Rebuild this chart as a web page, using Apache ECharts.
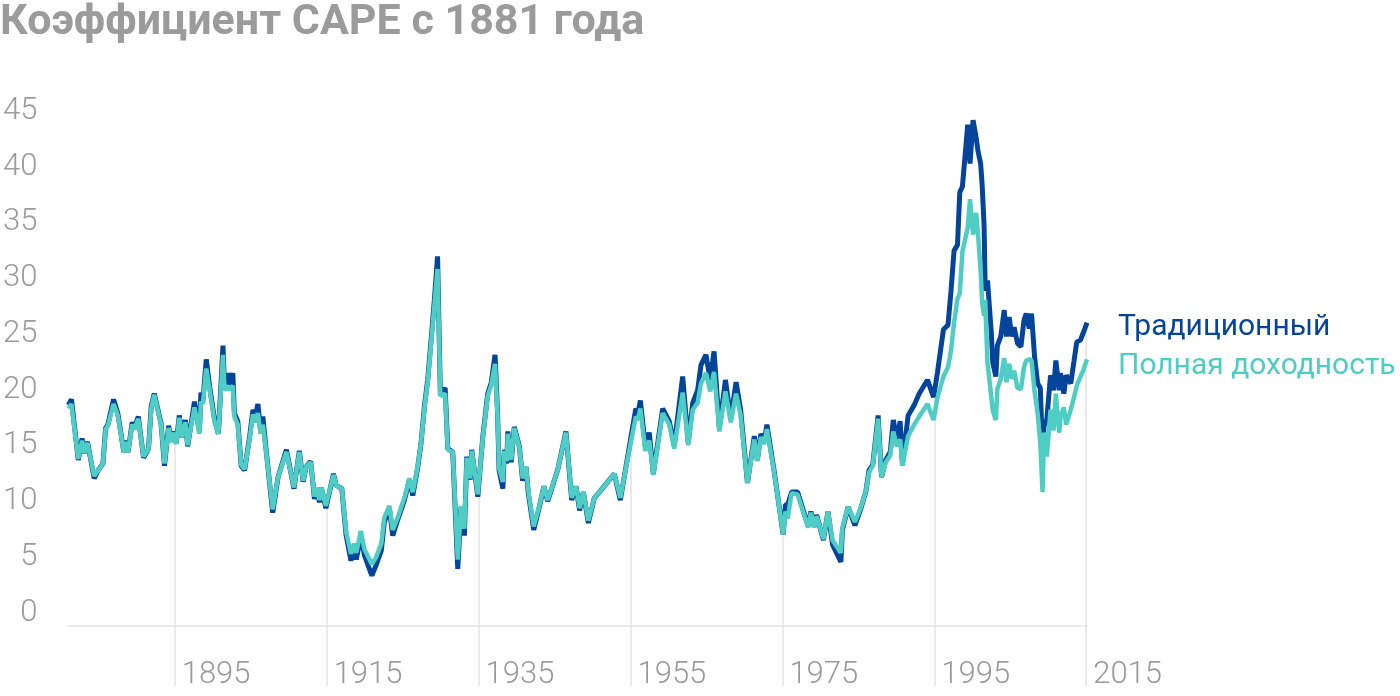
<!DOCTYPE html>
<html><head><meta charset="utf-8">
<script src="https://cdn.jsdelivr.net/npm/echarts@6/dist/echarts.min.js"></script>
<style>html,body{margin:0;padding:0;background:#fff}#c{width:1400px;height:696px}</style>
</head><body><div id="c"></div>
<script>
const titleText = 'Коэффициент CAPE с 1881 года';
const seriesNames = ['Традиционный', 'Полная доходность'];
const xTicks = [1895, 1915, 1935, 1955, 1975, 1995, 2015];
const yTicks = [0, 5, 10, 15, 20, 25, 30, 35, 40, 45];

const years = [
1881.0,1881.4,1882.3,1882.8,1883.1,1883.5,1884.4,1884.9,1885.55,1885.9,1886.2,1886.95,1887.5,1888.3,1888.5,1888.85,1889.4,1889.7,1890.2,1890.9,
1891.55,1891.9,1892.3,1893.2,1893.65,1894.2,1894.55,1894.75,1895.2,1895.6,1895.95,1896.4,1896.7,1897.6,1898.25,1898.45,1898.7,1899.15,1899.6,1900.25,
1900.75,1901.35,1901.55,1902.0,1902.2,1902.65,1902.85,1903.3,1903.75,1904.2,1904.85,1905.3,1905.6,1905.95,1906.3,1906.6,1906.95,1907.9,1908.6,1909.7,
1910.7,1911.4,1911.9,1912.3,1912.9,1913.4,1913.7,1914.05,1914.3,1914.9,1915.9,1916.25,1917.0,1917.55,1918.2,1918.6,1918.9,1919.5,1919.97,1920.95,
1921.5,1922.2,1922.6,1923.26,1923.7,1924.37,1925.24,1925.9,1926.34,1927.0,1927.43,1927.87,1928.3,1928.75,1929.18,1929.6,1929.97,1930.6,1930.95,1931.6,
1932.26,1932.7,1933.13,1933.45,1933.9,1934.1,1934.9,1935.55,1936.2,1936.65,1937.17,1937.5,1937.7,1938.2,1938.4,1938.7,1938.85,1939.3,1939.7,1940.37,
1940.8,1941.25,1941.55,1942.26,1943.0,1943.6,1944.1,1945.4,1946.5,1947.26,1947.83,1948.3,1948.8,1949.45,1950.24,1950.9,1952.87,1953.66,1954.63,1955.7,
1956.0,1956.3,1956.95,1957.47,1958.0,1959.24,1960.1,1960.76,1961.87,1962.6,1963.2,1963.84,1964.28,1964.93,1965.5,1966.0,1966.7,1967.5,1968.2,1968.9,
1969.5,1970.4,1971.3,1971.7,1972.17,1972.6,1972.96,1973.9,1975.1,1975.4,1975.7,1976.2,1977.0,1978.4,1978.75,1979.2,1979.5,1980.4,1981.0,1981.6,
1982.7,1982.9,1983.66,1984.54,1985.3,1986.0,1986.4,1986.9,1987.6,1988.05,1988.6,1989.2,1989.6,1990.07,1990.5,1990.8,1991.55,1992.35,1993.0,1994.1,
1994.9,1995.4,1996.2,1996.8,1997.2,1997.6,1998.05,1998.35,1998.7,1999.4,1999.7,2000.1,2000.5,2000.75,2001.1,2001.3,2001.55,2001.7,2002.0,2002.5,
2002.7,2003.1,2003.3,2003.75,2004.2,2004.5,2004.85,2005.2,2005.5,2005.95,2006.4,2006.8,2007.1,2007.5,2007.8,2008.2,2008.6,2008.95,2009.25,2009.45,
2009.8,2010.3,2010.7,2011.0,2011.45,2011.6,2012.05,2012.35,2012.96,2013.4,2013.75,2014.25,2014.6,2015.1
];

const traditional = [
19.3,19.8,14.5,16.4,15.1,16.1,12.9,13.6,14.2,17.3,17.6,19.8,18.6,15.2,16.2,15.2,17.8,17.3,18.3,14.7,
15.5,19.2,20.3,17.7,14.0,17.5,16.1,17.0,16.0,18.4,16.5,18.0,15.7,19.6,17.0,20.4,19.6,23.3,20.9,18.0,
16.8,24.5,20.9,22.1,20.9,22.1,18.6,17.9,14.0,13.6,16.5,18.9,18.3,19.4,17.1,18.3,15.9,9.9,13.0,15.4,
12.0,15.3,12.6,13.9,14.4,11.1,12.1,10.8,12.1,10.3,13.3,12.3,12.0,8.0,5.7,6.8,5.8,7.9,6.2,4.4,
5.3,6.6,9.1,10.3,7.9,9.3,11.0,12.8,11.4,13.9,16.0,19.2,21.5,25.0,28.5,32.3,20.2,20.8,15.5,15.2,
5.0,10.4,7.9,14.8,12.8,15.4,11.3,16.5,20.3,21.2,23.7,18.6,13.6,12.0,15.4,14.2,17.0,14.3,17.4,15.7,
12.7,13.9,11.6,8.4,10.4,12.2,10.9,13.6,17.0,11.0,12.2,10.1,11.7,9.0,11.2,11.7,13.3,11.0,14.8,19.0,
18.6,19.7,15.7,16.9,13.3,19.0,17.9,15.8,21.8,16.0,19.5,20.6,22.8,23.7,21.5,24.0,17.3,21.5,18.1,21.3,
18.9,12.5,16.6,14.5,16.8,16.1,17.6,13.6,8.0,10.6,10.6,11.7,11.7,8.7,10.0,8.7,9.7,7.5,10.0,7.1,
5.6,8.4,10.4,8.8,10.2,11.8,13.6,14.1,18.4,13.0,14.5,15.2,18.0,16.2,17.9,14.1,18.4,19.3,20.3,21.5,
20.0,22.1,25.9,26.3,29.3,32.8,33.3,37.9,38.4,43.8,40.4,44.2,42.7,41.5,40.4,38.5,35.0,29.3,30.2,25.6,
23.0,21.8,24.5,25.3,27.6,25.3,27.0,25.3,26.1,24.7,24.4,26.7,27.3,26.0,27.3,23.5,21.2,20.8,15.3,17.5,
18.0,21.9,20.6,23.2,20.6,22.1,20.3,21.9,21.2,23.2,24.8,25.0,25.6,26.5
];

const totalReturn = [
19.0,19.4,14.6,16.2,15.1,16.0,13.1,13.6,14.2,17.2,17.5,19.4,18.4,15.2,16.1,15.2,17.6,17.2,18.1,14.8,
15.5,19.0,20.2,17.6,14.2,17.3,16.1,16.9,15.9,18.2,16.5,17.8,15.8,19.1,16.8,19.6,19.4,22.5,20.6,17.8,
16.8,23.7,20.6,21.0,20.6,21.0,18.3,17.6,14.1,13.7,16.3,18.5,17.8,18.6,16.8,17.6,15.7,10.2,13.0,15.2,
12.1,15.2,12.7,13.9,14.3,11.3,12.1,11.0,12.1,10.5,13.2,12.3,12.0,8.3,6.3,7.2,6.4,8.3,6.7,5.4,
6.0,7.2,9.5,10.5,8.4,9.5,11.2,12.9,11.7,14.0,16.0,19.0,21.3,24.7,28.0,31.2,20.1,20.3,15.4,15.2,
5.8,10.5,8.5,14.7,12.9,15.3,11.5,16.4,20.1,21.0,22.9,18.4,13.8,12.6,15.3,14.4,16.8,14.5,17.3,15.6,
12.9,13.9,11.8,8.7,10.5,12.2,11.0,13.6,16.9,11.2,12.2,10.3,11.7,9.2,11.2,11.7,13.3,11.2,14.6,18.3,
18.0,19.0,15.3,16.2,13.2,18.6,17.6,15.5,20.4,15.8,18.9,19.5,21.2,22.1,20.5,22.2,17.0,20.5,17.8,20.3,
18.4,12.5,16.3,14.4,16.5,15.9,17.2,13.5,8.0,10.0,9.4,11.6,11.5,8.6,9.9,8.6,9.6,7.6,10.0,7.5,
6.4,8.6,10.4,9.1,10.3,11.8,13.4,14.0,18.1,13.0,14.3,14.9,17.0,15.7,16.3,14.0,16.6,17.6,18.3,19.4,
18.0,19.9,21.8,22.6,24.1,26.5,28.6,29.1,32.7,34.8,37.3,34.2,36.1,34.3,31.0,28.2,27.1,28.5,23.0,20.0,
18.8,18.0,20.7,21.6,23.4,21.3,22.9,21.6,22.3,20.8,20.7,22.6,23.2,23.3,23.2,20.5,18.6,16.0,11.7,16.9,
14.8,18.9,17.1,20.3,16.9,18.2,19.1,17.6,18.9,20.0,21.0,21.8,22.3,23.3
];

const tradData = years.map((y, i) => [y, traditional[i]]);
const totalData = years.map((y, i) => [y, totalReturn[i]]);
const coverData = years.map((y, i) => [y, Math.max(traditional[i], totalReturn[i])]);

const gray = '#9b9b9b';
const gridGray = '#e3e3e3';
const darkBlue = '#04449b';
const teal = '#4ecdc4';

const chart = echarts.init(document.getElementById('c'), null, {renderer: 'canvas'});
chart.setOption({
  animation: false,
  title: {
    text: titleText, left: 0, top: 2, padding: 0,
    textStyle: {fontFamily: 'Roboto', fontWeight: 'bold', fontSize: 43, color: gray}
  },
  grid: {left: 66, right: 313, top: 111, bottom: 70},
  xAxis: {
    type: 'value', min: 1881, max: 2015.1,
    axisLine: {lineStyle: {color: gridGray, width: 1.5}},
    axisTick: {customValues: xTicks, length: 60, lineStyle: {color: gridGray, width: 1.5}},
    splitLine: {show: true, lineStyle: {color: gridGray, width: 1.5}},
    axisLabel: {
      customValues: xTicks, formatter: v => String(v), align: 'left', verticalAlign: 'top',
      padding: [0, 0, 0, 7], margin: 34, fontSize: 31, fontWeight: 300,
      fontFamily: 'Roboto', color: gray
    }
  },
  yAxis: [
    {type: 'value', min: 0, max: 45, show: false},
    {
      type: 'value', min: -1.16, max: 45, position: 'left',
      axisLine: {show: false}, axisTick: {show: false}, splitLine: {show: false},
      axisLabel: {customValues: yTicks, margin: 31, fontSize: 31, fontWeight: 300, fontFamily: 'Roboto', color: gray}
    }
  ],
  series: [
    {
      type: 'line', data: coverData, yAxisIndex: 0, symbol: 'none', silent: true, z: 1,
      lineStyle: {width: 0}, areaStyle: {color: '#fff', opacity: 1, origin: 'end'}
    },
    {
      name: seriesNames[0], type: 'line', data: tradData, yAxisIndex: 0, symbol: 'none', z: 3,
      lineStyle: {color: darkBlue, width: 5, join: 'bevel'},
      endLabel: {show: true, formatter: seriesNames[0], color: darkBlue, fontSize: 30, fontFamily: 'Roboto', distance: 31, offset: [0, 5]}
    },
    {
      name: seriesNames[1], type: 'line', data: totalData, yAxisIndex: 0, symbol: 'none', z: 4,
      lineStyle: {color: teal, width: 4.5, join: 'bevel'},
      endLabel: {show: true, formatter: seriesNames[1], color: teal, fontSize: 30, fontFamily: 'Roboto', distance: 31, offset: [0, 7]}
    }
  ]
});
</script></body></html>
